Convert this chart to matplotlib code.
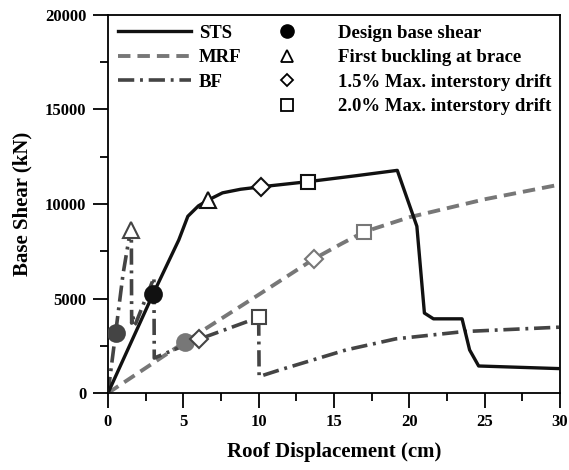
import matplotlib
matplotlib.use("Agg")
import matplotlib.pyplot as plt
from matplotlib.lines import Line2D
from matplotlib.ticker import MultipleLocator

plt.rcParams['font.family'] = ['Liberation Serif', 'DejaVu Serif']
plt.rcParams['font.weight'] = 'bold'

# pushover curves: roof displacement (cm) vs base shear (kN)
sts_x = [0, 3.0, 4.7, 5.3, 6.0, 6.65, 7.6, 8.8, 10.15, 13.25, 16.5, 19.2, 20.5, 21.0, 21.6, 23.5, 24.0, 24.6, 30]
sts_y = [0, 5250, 8100, 9350, 9900, 10210, 10590, 10780, 10910, 11180, 11500, 11780, 8820, 4230, 3925, 3925, 2280, 1430, 1290]

mrf_x = [0, 5.1, 10, 13.7, 15.5, 17.0, 20.0, 25.0, 30]
mrf_y = [0, 2700, 5200, 7110, 7900, 8525, 9300, 10250, 11030]

bf_x = [0, 0.51, 1.0, 1.4, 1.55, 1.57, 1.65, 1.75, 1.85, 3.05, 3.07, 6.05, 10.0, 10.03, 11.4, 15.8, 19.1, 23.6, 30]
bf_y = [0, 3200, 6300, 8200, 8650, 3700, 4100, 3600, 3700, 6100, 1850, 2850, 4000, 870, 1220, 2280, 2865, 3250, 3485]

# performance points: (x, y) for each system
sts_pts = {'design': (3.0, 5250), 'buckle': (6.65, 10210), 'd15': (10.15, 10910), 'd20': (13.25, 11180)}
mrf_pts = {'design': (5.1, 2700), 'd15': (13.7, 7110), 'd20': (17.0, 8525)}
bf_pts = {'design': (0.51, 3200), 'buckle': (1.55, 8650), 'd15': (6.05, 2850), 'd20': (10.0, 4000)}

series_labels = ['STS', 'MRF', 'BF']
marker_labels = ['Design base shear', 'First buckling at brace',
                 '1.5% Max. interstory drift', '2.0% Max. interstory drift']

c_sts, c_mrf, c_bf = '#111111', '#777777', '#444444'
marker_style = {'design': ('o', True, 12), 'buckle': ('^', False, 12),
                'd15': ('D', False, 9), 'd20': ('s', False, 10)}

fig = plt.figure(figsize=(5.69, 4.70), dpi=100)
ax = fig.add_axes([0.1898, 0.1638, 0.7944, 0.8043])

ax.plot(sts_x, sts_y, color=c_sts, lw=2.4, zorder=3)
ax.plot(mrf_x, mrf_y, color=c_mrf, lw=2.8, dashes=(3.2, 1.8), zorder=2)
ax.plot(bf_x, bf_y, color=c_bf, lw=2.6, dashes=(4.5, 1.6, 0.8, 1.6), zorder=2)

for pts, col in [(sts_pts, c_sts), (mrf_pts, c_mrf), (bf_pts, c_bf)]:
    for key, (px, py) in pts.items():
        m, filled, ms = marker_style[key]
        ax.plot(px, py, marker=m, ms=ms, mec=col, mew=1.5,
                mfc=col if filled else 'white', zorder=5, linestyle='none')

ax.set_xlim(0, 30)
ax.set_ylim(0, 20000)
ax.xaxis.set_major_locator(MultipleLocator(5))
ax.xaxis.set_minor_locator(MultipleLocator(2.5))
ax.yaxis.set_major_locator(MultipleLocator(5000))
ax.yaxis.set_minor_locator(MultipleLocator(2500))
ax.tick_params(which='both', direction='out', width=1.3, labelsize=12)
ax.tick_params(which='major', length=10.5)
ax.tick_params(which='minor', length=5.5)
ax.tick_params(axis='x', which='major', pad=4.5)
ax.tick_params(axis='y', which='major', pad=5)
for s in ax.spines.values():
    s.set_linewidth(1.3)
for lab in ax.get_xticklabels() + ax.get_yticklabels():
    lab.set_fontweight('bold')

ax.set_xlabel('Roof Displacement (cm)', fontsize=15, fontweight='bold', labelpad=9)
ax.set_ylabel('Base Shear (kN)', fontsize=15, fontweight='bold', labelpad=9)

line_handles = [Line2D([], [], color=c_sts, lw=2.4),
                Line2D([], [], color=c_mrf, lw=2.8, dashes=(3.2, 1.8)),
                Line2D([], [], color=c_bf, lw=2.6, dashes=(4.5, 1.6, 0.8, 1.6))]
leg1 = ax.legend(line_handles, series_labels, loc='upper left', frameon=False,
                 handlelength=3.9, handletextpad=0.43, labelspacing=0.4,
                 borderpad=0, borderaxespad=0,
                 bbox_to_anchor=(0.022, 0.975), prop={'weight': 'bold', 'size': 13.5})
ax.add_artist(leg1)

mk_handles = [Line2D([], [], marker='o', ms=9.5, color='k', ls='none'),
              Line2D([], [], marker='^', ms=8, mec='k', mfc='white', mew=1.3, ls='none'),
              Line2D([], [], marker='D', ms=6.5, mec='k', mfc='white', mew=1.3, ls='none'),
              Line2D([], [], marker='s', ms=8, mec='k', mfc='white', mew=1.3, ls='none')]
ax.legend(mk_handles, marker_labels, loc='upper left', frameon=False,
          handlelength=1.0, handletextpad=2.2, labelspacing=0.4,
          borderpad=0, borderaxespad=0,
          bbox_to_anchor=(0.375, 0.975), prop={'weight': 'bold', 'size': 13.5})

fig.savefig('out.png', dpi=100)
